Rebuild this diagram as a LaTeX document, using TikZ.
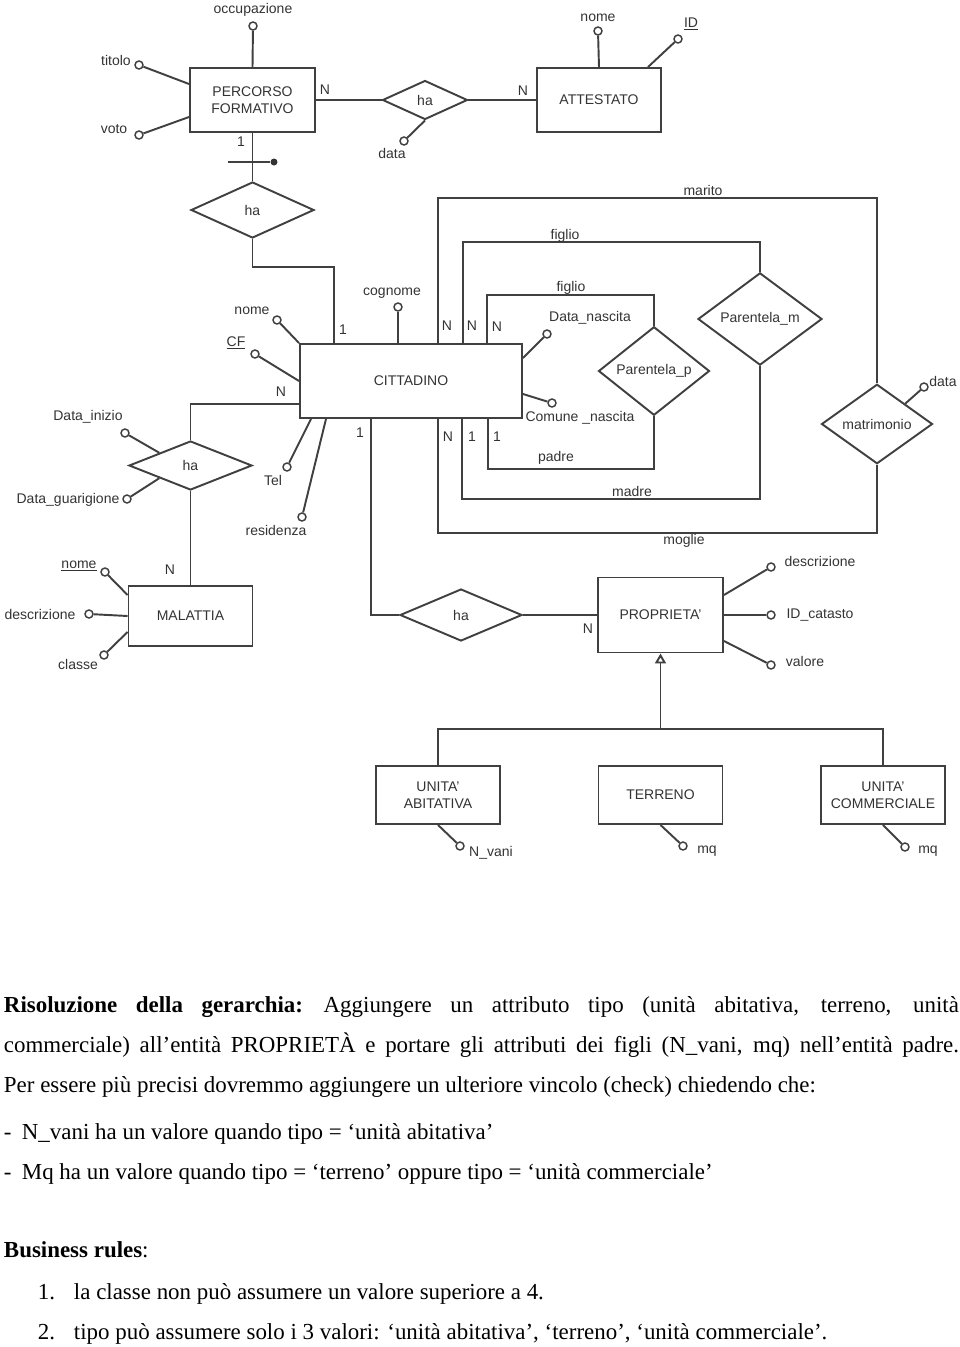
\documentclass[tikz,border=0pt]{standalone}
\usepackage{fontspec}
\setmainfont{Liberation Serif}
\setsansfont{Liberation Sans}
\usetikzlibrary{shapes.geometric,arrows.meta}

\newdimen\px \px=0.75pt % one pixel of the page

\begin{document}
\begin{tikzpicture}[x=0.75pt, y=-0.75pt, line width=1.45pt, draw=black!75,
    every node/.style={font=\sffamily\fontsize{10.5}{12.75}\selectfont, text=black!80},
    entity/.style={draw, rectangle, align=center, inner sep=0pt},
    rel/.style={draw, diamond, inner sep=0pt},
    attr/.style={draw, circle, fill=white, inner sep=0pt, minimum size=8\px, line width=1.1pt},
    idot/.style={circle, fill=black!80, inner sep=0pt, minimum size=7\px},
    card/.style={inner sep=0pt},
    body/.style={font=\rmfamily\fontsize{17.2}{30}\selectfont, text=black, inner sep=0pt, anchor=base west}]

    % Page area in pixels
    \useasboundingbox (0,0) rectangle (960,1347);

    % Entities
    \node[entity, minimum width=125\px, minimum height=64\px] (pf) at (252.5,100) {PERCORSO\\FORMATIVO};
    \node[entity, minimum width=124\px, minimum height=64\px] (att) at (599,100) {ATTESTATO};
    \node[entity, minimum width=222\px, minimum height=74\px] (cit) at (411,381) {CITTADINO};
    \node[entity, minimum width=124\px, minimum height=60\px] (mal) at (190.5,616) {MALATTIA};
    \node[entity, minimum width=125\px, minimum height=75\px] (prop) at (660.5,615) {PROPRIETA'};

    % Sub entities of PROPRIETA'
    \def\boxw{124}
    \def\boxh{58}
    \foreach \nm/\x/\txt in {ua/438/{UNITA'\\ABITATIVA}, ter/660.5/TERRENO, uc/883/{UNITA'\\COMMERCIALE}} {
        \node[entity, minimum width=\boxw\px, minimum height=\boxh\px] (\nm) at (\x,795) {\txt};
    }

    % Relationships
    \node[rel, minimum width=85\px, minimum height=39\px] (ha1) at (425,100) {ha};
    \node[rel, minimum width=123\px, minimum height=56\px] (ha2) at (252.5,210) {ha};
    \node[rel, minimum width=123\px, minimum height=49\px] (ha3) at (190.5,465.5) {ha};
    \node[rel, minimum width=122\px, minimum height=52\px] (ha4) at (461,615) {ha};
    \node[rel, minimum width=111\px, minimum height=53\px] (parp) at (654,371) {Parentela\_p};
    \node[rel, minimum width=124\px, minimum height=48\px] (parm) at (760,319) {Parentela\_m};
    \node[rel, minimum width=111\px, minimum height=60\px] (matr) at (877,424) {matrimonio};

    % Attributes: circle and its text
    \foreach \nm/\cx/\cy/\tx/\ty/\txt in {
        occ/253/26/253/10/occupazione, tit/139/65/116/60/titolo, voto/139/135/114/129/voto,
        dat/404/141/392/153/data, anome/598/31/598/18/nome, aid/678/39/691/24/\underline{ID},
        cnome/277/320/252/311/nome, cf/255/354/236/343/\underline{CF}, cogn/398/307/392/293/cognome,
        dnas/547/334/590/318/Data\_nascita, cnas/552/403/580/418/Comune \_nascita,
        tel/287/467/273/480/Tel, res/302/517/276/530/residenza,
        dini/125/433/88/417/Data\_inizio, dgua/127/499/68/500/Data\_guarigione,
        mdat/924/387/943/381/data,
        mnome/105/572/79/566/\underline{nome}, mdes/89/614/40/614/descrizione, mcla/104/655/78/664/classe,
        pdes/771/567/820/561/descrizione, pcat/771/615/820/615/ID\_catasto, pval/771/665/805/661/valore,
        nvan/460/846/491/853/N\_vani, tmq/683/846/707/851/mq, cmq/905/847/928/851/mq} {
        \node[attr] (\nm) at (\cx,\cy) {};
        \node (\nm-t) at (\tx,\ty) {\txt};
    }

    % Attribute links
    \draw (pf.north) -- (occ);
    \draw (pf.west |- 0,84) -- (tit);
    \draw (pf.west |- 0,117) -- (voto);
    \draw (ha1.south) -- (dat);
    \draw (att.north) -- (anome);
    \draw (att.north -| 648,0) -- (aid);
    \draw (cit.north west) -- (cnome);
    \draw (cit.west) -- (cf);
    \draw (cit.north -| cogn) -- (cogn);
    \draw (cit.east |- 0,358) -- (dnas);
    \draw (cit.east |- 0,394) -- (cnas);
    \draw (cit.south -| 311,0) -- (tel);
    \draw (cit.south -| 326,0) -- (res);
    \draw (ha3.north west) -- (dini);
    \draw (ha3.south west) -- (dgua);
    \draw (matr.north east) -- (mdat);
    \draw (mal.west |- 0,595) -- (mnome);
    \draw (mal.west) -- (mdes);
    \draw (mal.west |- 0,632) -- (mcla);
    \draw (prop.east |- 0,595) -- (pdes);
    \draw (prop.east) -- (pcat);
    \draw (prop.east |- 0,641) -- (pval);
    \draw (ua.south) -- (nvan);
    \draw (ter.south) -- (tmq);
    \draw (uc.south) -- (cmq);

    % Relationship links
    \draw (pf.east) -- (ha1.west) (ha1.east) -- (att.west);
    \draw (pf.south) -- (ha2.north);
    \draw (ha2.south) -- ++(0,28) -| (cit.north -| 334,0);
    \draw (cit.west |- 0,404) -| (ha3.north);
    \draw (ha3.south) -- (mal.north);
    \draw (cit.south -| 371,0) |- (ha4.west);
    \draw (ha4.east) -- (prop.west);

    % Identifier mark
    \coordinate (idl) at (228,162);
    \node[idot] (idr) at (274,162) {};
    \draw (idl) -- (idr);

    % Family rings on CITTADINO
    \draw (cit.north -| 438,0) -- ++(0,-145) -| (matr.north);
    \draw (cit.north -| 463,0) -- ++(0,-101) -| (parm.north);
    \draw (cit.north -| 487,0) -- ++(0,-48) -| (parp.north);
    \draw (cit.south -| 488,0) -- ++(0,50) -| (parp.south);
    \draw (cit.south -| 462,0) -- ++(0,80) -| (parm.south);
    \draw (cit.south -| 438,0) -- ++(0,114) -| (matr.south);

    % Role names
    \node (r-mar) at (703,190) {marito};
    \node (r-fig1) at (565,236) {figlio};
    \node (r-fig2) at (571,288) {figlio};
    \node (r-pad) at (556,458) {padre};
    \node (r-mad) at (632,491) {madre};
    \node (r-mog) at (684,541) {moglie};

    % Generalization
    \coordinate (isa) at (prop.south |- 0,729);
    \draw[-{Triangle[open, length=7.5pt, width=8.25pt]}] (isa) -- (prop.south);
    \draw (ua.north) |- (isa) -| (uc.north);

    % Cardinalities
    \foreach \nm/\x/\y/\txt in {k1/325/90/N, k2/523/91/N, k3/241/142/1, k4/343/330/1, k5/447/326/N,
        k6/472/326/N, k7/497/327/N, k8/281/392/N, k9/360/433/1, k10/448/437/N, k11/472/437/1,
        k12/497/437/1, k13/170/570/N, k14/588/629/N} {
        \node[card] (\nm) at (\x,\y) {\txt};
    }

    % Text below the diagram
    \node[body] (t1) at (3,1012) {\makebox[955\px][s]{\textbf{Risoluzione della gerarchia:}\hspace{0.9em}Aggiungere un attributo tipo (unità abitativa, terreno, unità}};
    \node[body] (t2) at (3,1052) {\makebox[955\px][s]{commerciale) all’entità PROPRIETÀ e portare gli attributi dei figli (N\_vani, mq) nell’entità padre.}};
    \node[body] (t3) at (3,1092) {Per essere più precisi dovremmo aggiungere un ulteriore vincolo (check) chiedendo che:};
    \node[body] (t4) at (3,1139) {-\hspace{0.45em}N\_vani ha un valore quando tipo = ‘unità abitativa’};
    \node[body] (t5) at (3,1179) {-\hspace{0.45em}Mq ha un valore quando tipo = ‘terreno’ oppure tipo = ‘unità commerciale’};
    \node[body] (t6) at (3,1257) {\textbf{Business rules}:};
    \node[body] (t7) at (37,1299) {1.};
    \node[body] (t7b) at (73,1299) {la classe non può assumere un valore superiore a 4.};
    \node[body] (t8) at (37,1339) {2.};
    \node[body] (t8b) at (73,1339) {tipo può assumere solo i 3 valori: ‘unità abitativa’, ‘terreno’, ‘unità commerciale’.};

\end{tikzpicture}
\end{document}
